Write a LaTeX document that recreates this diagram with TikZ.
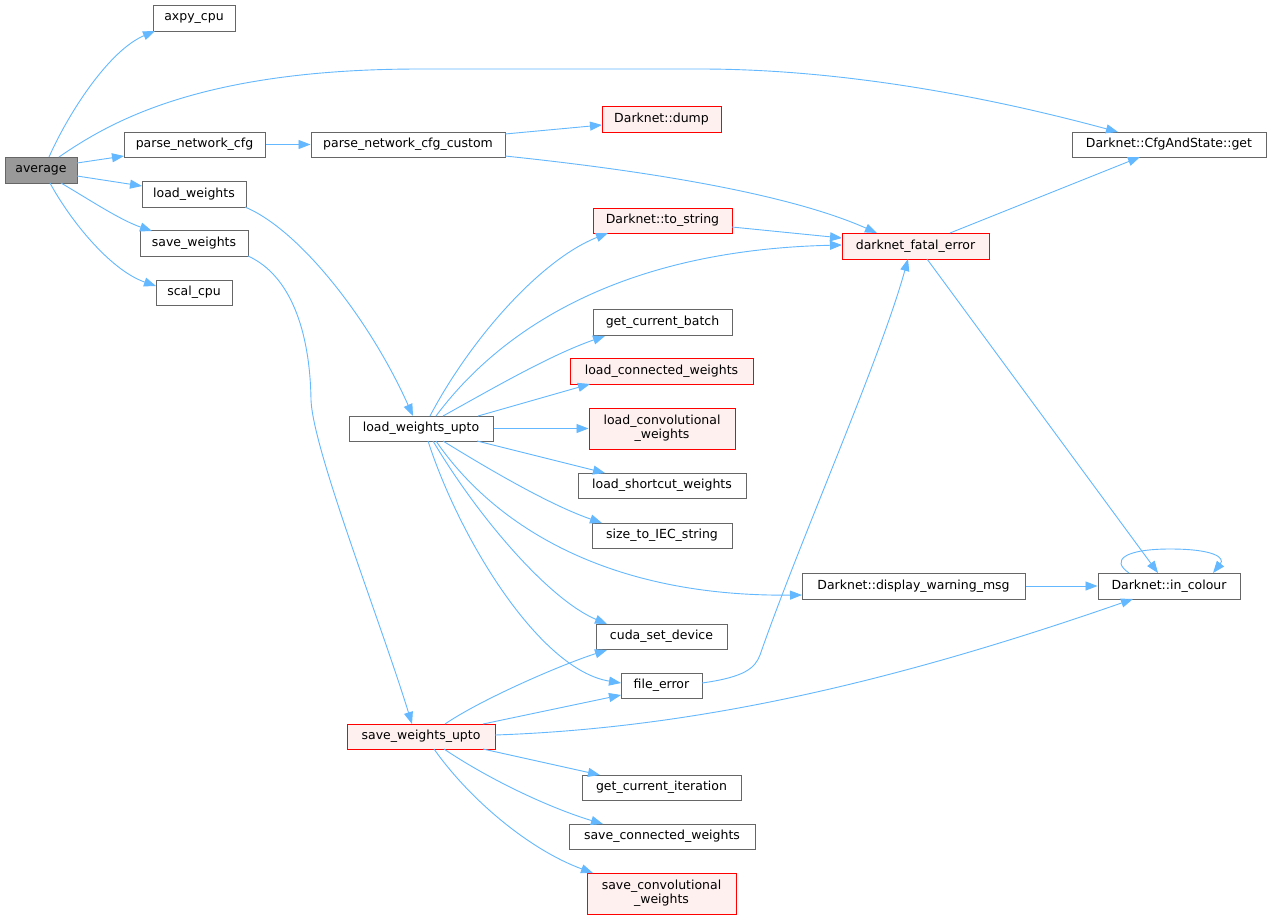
\documentclass[tikz,border=0pt]{standalone}
\usepackage{fontspec}
\setmainfont{DejaVu Sans}
\usetikzlibrary{arrows.meta,calc}
\definecolor{edgec}{HTML}{63B8FF}
\definecolor{bord}{HTML}{666666}
\definecolor{grayfill}{HTML}{999999}
\definecolor{redfill}{HTML}{FFF0F0}
\tikzset{
  nb/.style={draw=bord,fill=white,line width=1pt,inner sep=0pt,align=center,
    font=\fontsize{12.5}{14.3}\selectfont},
  nred/.style={nb,draw=red,fill=redfill},
  ngray/.style={nb,fill=grayfill},
  ed/.style={draw=edgec,line width=0.9pt,-{Triangle[length=12pt,width=9pt]}},
}
\begin{document}
\begin{tikzpicture}[x=1pt,y=-1pt]
\useasboundingbox[fill=white] (0,0) rectangle (1271,919);
% nodes
\node[ngray,minimum width=72,minimum height=26] (average) at (41,170) {average};
\node[nb,minimum width=82,minimum height=26] (axpy) at (194,18) {axpy\_cpu};
\node[nb,minimum width=141,minimum height=25] (pnc) at (194.5,144.5) {parse\_network\_cfg};
\node[nb,minimum width=194,minimum height=25] (pncc) at (408,144.5) {parse\_network\_cfg\_custom};
\node[nb,minimum width=104,minimum height=26] (lw) at (194,194) {load\_weights};
\node[nb,minimum width=108,minimum height=26] (sw) at (194,243) {save\_weights};
\node[nb,minimum width=76,minimum height=25] (scal) at (194,292.5) {scal\_cpu};
\node[nred,minimum width=119,minimum height=26] (dump) at (661.5,119) {Darknet::dump};
\node[nb,minimum width=194,minimum height=25] (get) at (1169,144.5) {Darknet::CfgAndState::get};
\node[nred,minimum width=139,minimum height=25] (ts) at (662.5,220.5) {Darknet::to\_string};
\node[nred,minimum width=147,minimum height=26] (fatal) at (915.5,246) {darknet\_fatal\_error};
\node[nb,minimum width=139,minimum height=26] (gcb) at (662.5,322) {get\_current\_batch};
\node[nred,minimum width=183,minimum height=26] (lcw) at (661.5,371) {load\_connected\_weights};
\node[nred,minimum width=146,minimum height=41] (lconv) at (662,428.5) {load\_convolutional\\\_weights};
\node[nb,minimum width=144,minimum height=25] (lwu) at (421,428.5) {load\_weights\_upto};
\node[nb,minimum width=168,minimum height=25] (lsw) at (662,485.5) {load\_shortcut\_weights};
\node[nb,minimum width=140,minimum height=25] (size) at (662,535.5) {size\_to\_IEC\_string};
\node[nb,minimum width=223,minimum height=26] (dwm) at (913.5,586) {Darknet::display\_warning\_msg};
\node[nb,minimum width=142,minimum height=26] (inc) at (1169,586) {Darknet::in\_colour};
\node[nb,minimum width=131,minimum height=25] (cuda) at (661.5,636.5) {cuda\_set\_device};
\node[nb,minimum width=81,minimum height=25] (file) at (661.5,685.5) {file\_error};
\node[nred,minimum width=148,minimum height=25] (swu) at (421,736.5) {save\_weights\_upto};
\node[nb,minimum width=159,minimum height=25] (gci) at (661.5,787.5) {get\_current\_iteration};
\node[nb,minimum width=186,minimum height=25] (scw) at (662,836.5) {save\_connected\_weights};
\node[nred,minimum width=149,minimum height=41] (sconv) at (661.5,893.5) {save\_convolutional\\\_weights};
% edges from average
\draw[ed] ($(average)+(8,-13)$) .. controls (70,110) and (110,50) .. ($(axpy)+(-39,13)$);
\draw[ed] ($(average)+(18,-13)$) .. controls (110,122) and (200,69) .. (420,69) -- (700,69) .. controls (850,69) and (1000,100) .. ($(get)+(-51,-12.5)$);
\draw[ed] ($(average)+(36,-7)$) -- ($(pnc)+(-70.5,11.5)$);
\draw[ed] ($(average)+(36,6)$) -- ($(lw)+(-52,-8)$);
\draw[ed] ($(average)+(20,13)$) .. controls (90,200) and (120,220) .. ($(sw)+(-42,-12)$);
\draw[ed] ($(average)+(9,13)$) .. controls (70,220) and (110,270) .. ($(scal)+(-38,-6.5)$);
% parse chain
\draw[ed] (pnc.east) -- (pncc.west);
\draw[ed] ($(pncc)+(97,-10.5)$) -- ($(dump)+(-59.5,6)$);
\draw[ed] ($(pncc)+(97,11.5)$) .. controls (620,168) and (780,190) .. ($(fatal)+(-38.5,-13)$);
% weights
\draw[ed] ($(lw)+(51,13)$) .. controls (300,230) and (370,320) .. ($(lwu)+(-8,-12.5)$);
\draw[ed] ($(sw)+(54,13)$) .. controls (290,275) and (310,330) .. (311,400) .. controls (313,450) and (380,620) .. ($(swu)+(-9,-12.5)$);
% load_weights_upto
\draw[ed] ($(lwu)+(9,-12.5)$) .. controls (470,340) and (540,260) .. ($(ts)+(-54.5,12.5)$);
\draw[ed] ($(lwu)+(15,-12.5)$) .. controls (500,330) and (620,250) .. ($(fatal)+(-73.5,-1)$);
\draw[ed] ($(lwu)+(22,-12.5)$) .. controls (490,390) and (550,355) .. ($(gcb)+(-57.5,14)$);
\draw[ed] ($(lwu)+(57,-12.5)$) -- ($(lcw)+(-71.5,13)$);
\draw[ed] (lwu.east) -- (lconv.west);
\draw[ed] ($(lwu)+(56,12.5)$) -- ($(lsw)+(-57,-12.5)$);
\draw[ed] ($(lwu)+(22,12.5)$) .. controls (490,470) and (550,505) .. ($(size)+(-60,-12.5)$);
\draw[ed] ($(lwu)+(15,12.5)$) .. controls (490,520) and (600,597) .. ($(dwm)+(-111.5,9)$);
\draw[ed] ($(lwu)+(12,12.5)$) .. controls (480,520) and (550,600) .. ($(cuda)+(-54.5,-12.5)$);
\draw[ed] ($(lwu)+(7,12.5)$) .. controls (460,540) and (540,670) .. ($(file)+(-40.5,-2.5)$);
% right side
\draw[ed] ($(ts)+(69.5,6.5)$) -- ($(fatal)+(-73.5,-8)$);
\draw[ed] ($(fatal)+(34.5,-13)$) -- ($(get)+(-29,12.5)$);
\draw[ed] ($(fatal)+(11.5,13)$) -- ($(inc)+(-11,-13)$);
\draw[ed] (dwm.east) -- (inc.west);
\draw[ed] ($(inc)+(-40,-13)$) .. controls (1110,560) and (1125,549) .. (1170,549) .. controls (1215,549) and (1225,558) .. ($(inc)+(44,-13)$);
\draw[ed] ($(file)+(40.5,-2.5)$) .. controls (745,677) and (755,668) .. (760,655) .. controls (800,540) and (880,360) .. ($(fatal)+(-7.5,13)$);
% save_weights_upto
\draw[ed] ($(swu)+(24,-12.5)$) .. controls (480,700) and (560,665) .. ($(cuda)+(-54.5,13.5)$);
\draw[ed] ($(swu)+(62,-12.5)$) -- ($(file)+(-40.5,9.5)$);
\draw[ed] ($(swu)+(74,-1.5)$) .. controls (700,728) and (900,680) .. ($(inc)+(-36,13)$);
\draw[ed] ($(swu)+(62,12.5)$) -- ($(gci)+(-61.5,-12.5)$);
\draw[ed] ($(swu)+(23,12.5)$) .. controls (490,780) and (550,808) .. ($(scw)+(-59,-12.5)$);
\draw[ed] ($(swu)+(13,12.5)$) .. controls (470,800) and (530,850) .. ($(sconv)+(-68.5,-20.5)$);
\end{tikzpicture}
\end{document}
